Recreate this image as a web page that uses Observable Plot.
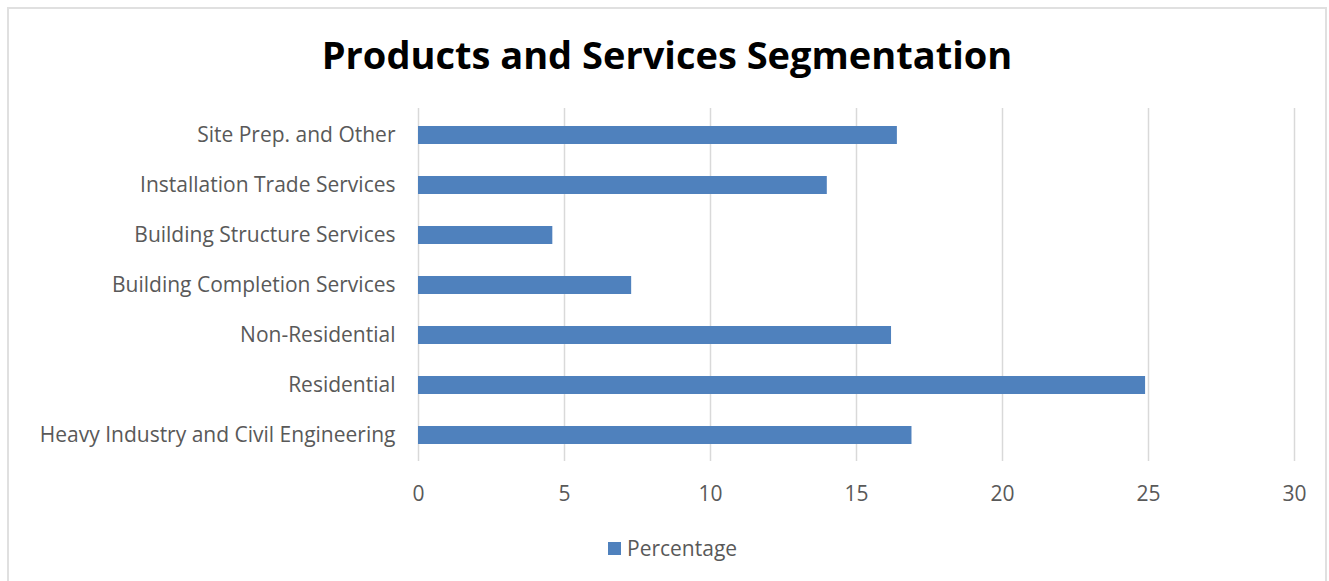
<!DOCTYPE html>
<html>
<head>
<meta charset="utf-8">
<script src="https://cdn.jsdelivr.net/npm/d3@7"></script>
<script src="https://cdn.jsdelivr.net/npm/@observablehq/plot@0.6"></script>
<style>
  html, body { margin: 0; padding: 0; background: #ffffff; }
  #wrap { position: relative; width: 1329px; height: 581px; overflow: hidden; font-family: "Open Sans", sans-serif; }
  #frame { position: absolute; left: 7px; top: 7px; width: 1320px; height: 590px; border: 2.5px solid #e0e0e0; box-sizing: border-box; }
  #title { position: absolute; left: 7px; width: 1320px; top: 35px; text-align: center; font-size: 38px; line-height: 38px; font-weight: 700; color: #000; }
  #chart { position: absolute; left: 0; top: 101px; }
  #legend { position: absolute; left: 608px; top: 536px; height: 24px; display: flex; align-items: center; font-size: 21px; color: #595959; }
  #legend .sw { width: 13px; height: 13px; margin-right: 6px; }
</style>
</head>
<body>
<div id="wrap">
  <div id="frame"></div>
  <div id="title"></div>
  <div id="chart"></div>
  <div id="legend"></div>
</div>
<script>
const titleText = "Products and Services Segmentation";
const categories = [
  "Site Prep. and Other",
  "Installation Trade Services",
  "Building Structure Services",
  "Building Completion Services",
  "Non-Residential",
  "Residential",
  "Heavy Industry and Civil Engineering"
];
const values = [16.4, 14.0, 4.6, 7.3, 16.2, 24.9, 16.9];
const xTicks = [0, 5, 10, 15, 20, 25, 30];
const seriesName = "Percentage";
const barColor = "#4f81bd";

const data = categories.map((c, i) => ({category: c, value: values[i]}));

document.getElementById("title").textContent = titleText;

const chart = Plot.plot({
  width: 1329,
  height: 420,
  marginLeft: 418,
  marginRight: 35,
  marginTop: 7,
  marginBottom: 60,
  style: {fontFamily: "Open Sans, sans-serif", background: "transparent"},
  x: {domain: [0, 30], ticks: xTicks, label: null},
  y: {domain: categories, paddingInner: 0.65, paddingOuter: 0.325, label: null},
  marks: [
    Plot.gridX(xTicks, {stroke: "#d9d9d9", strokeOpacity: 1, strokeWidth: 1.5}),
    Plot.barX(data, {x: "value", y: "category", fill: barColor}),
    Plot.axisX({ticks: xTicks, tickSize: 0, tickPadding: 25, fontSize: 21, fill: "#595959", label: null}),
    Plot.axisY({tickSize: 0, tickPadding: 23, fontSize: 21, fill: "#595959", label: null})
  ]
});
document.getElementById("chart").appendChild(chart);

const legend = document.getElementById("legend");
const sw = document.createElement("div");
sw.className = "sw";
sw.style.background = barColor;
const lt = document.createElement("span");
lt.textContent = seriesName;
legend.appendChild(sw);
legend.appendChild(lt);
</script>
</body>
</html>
